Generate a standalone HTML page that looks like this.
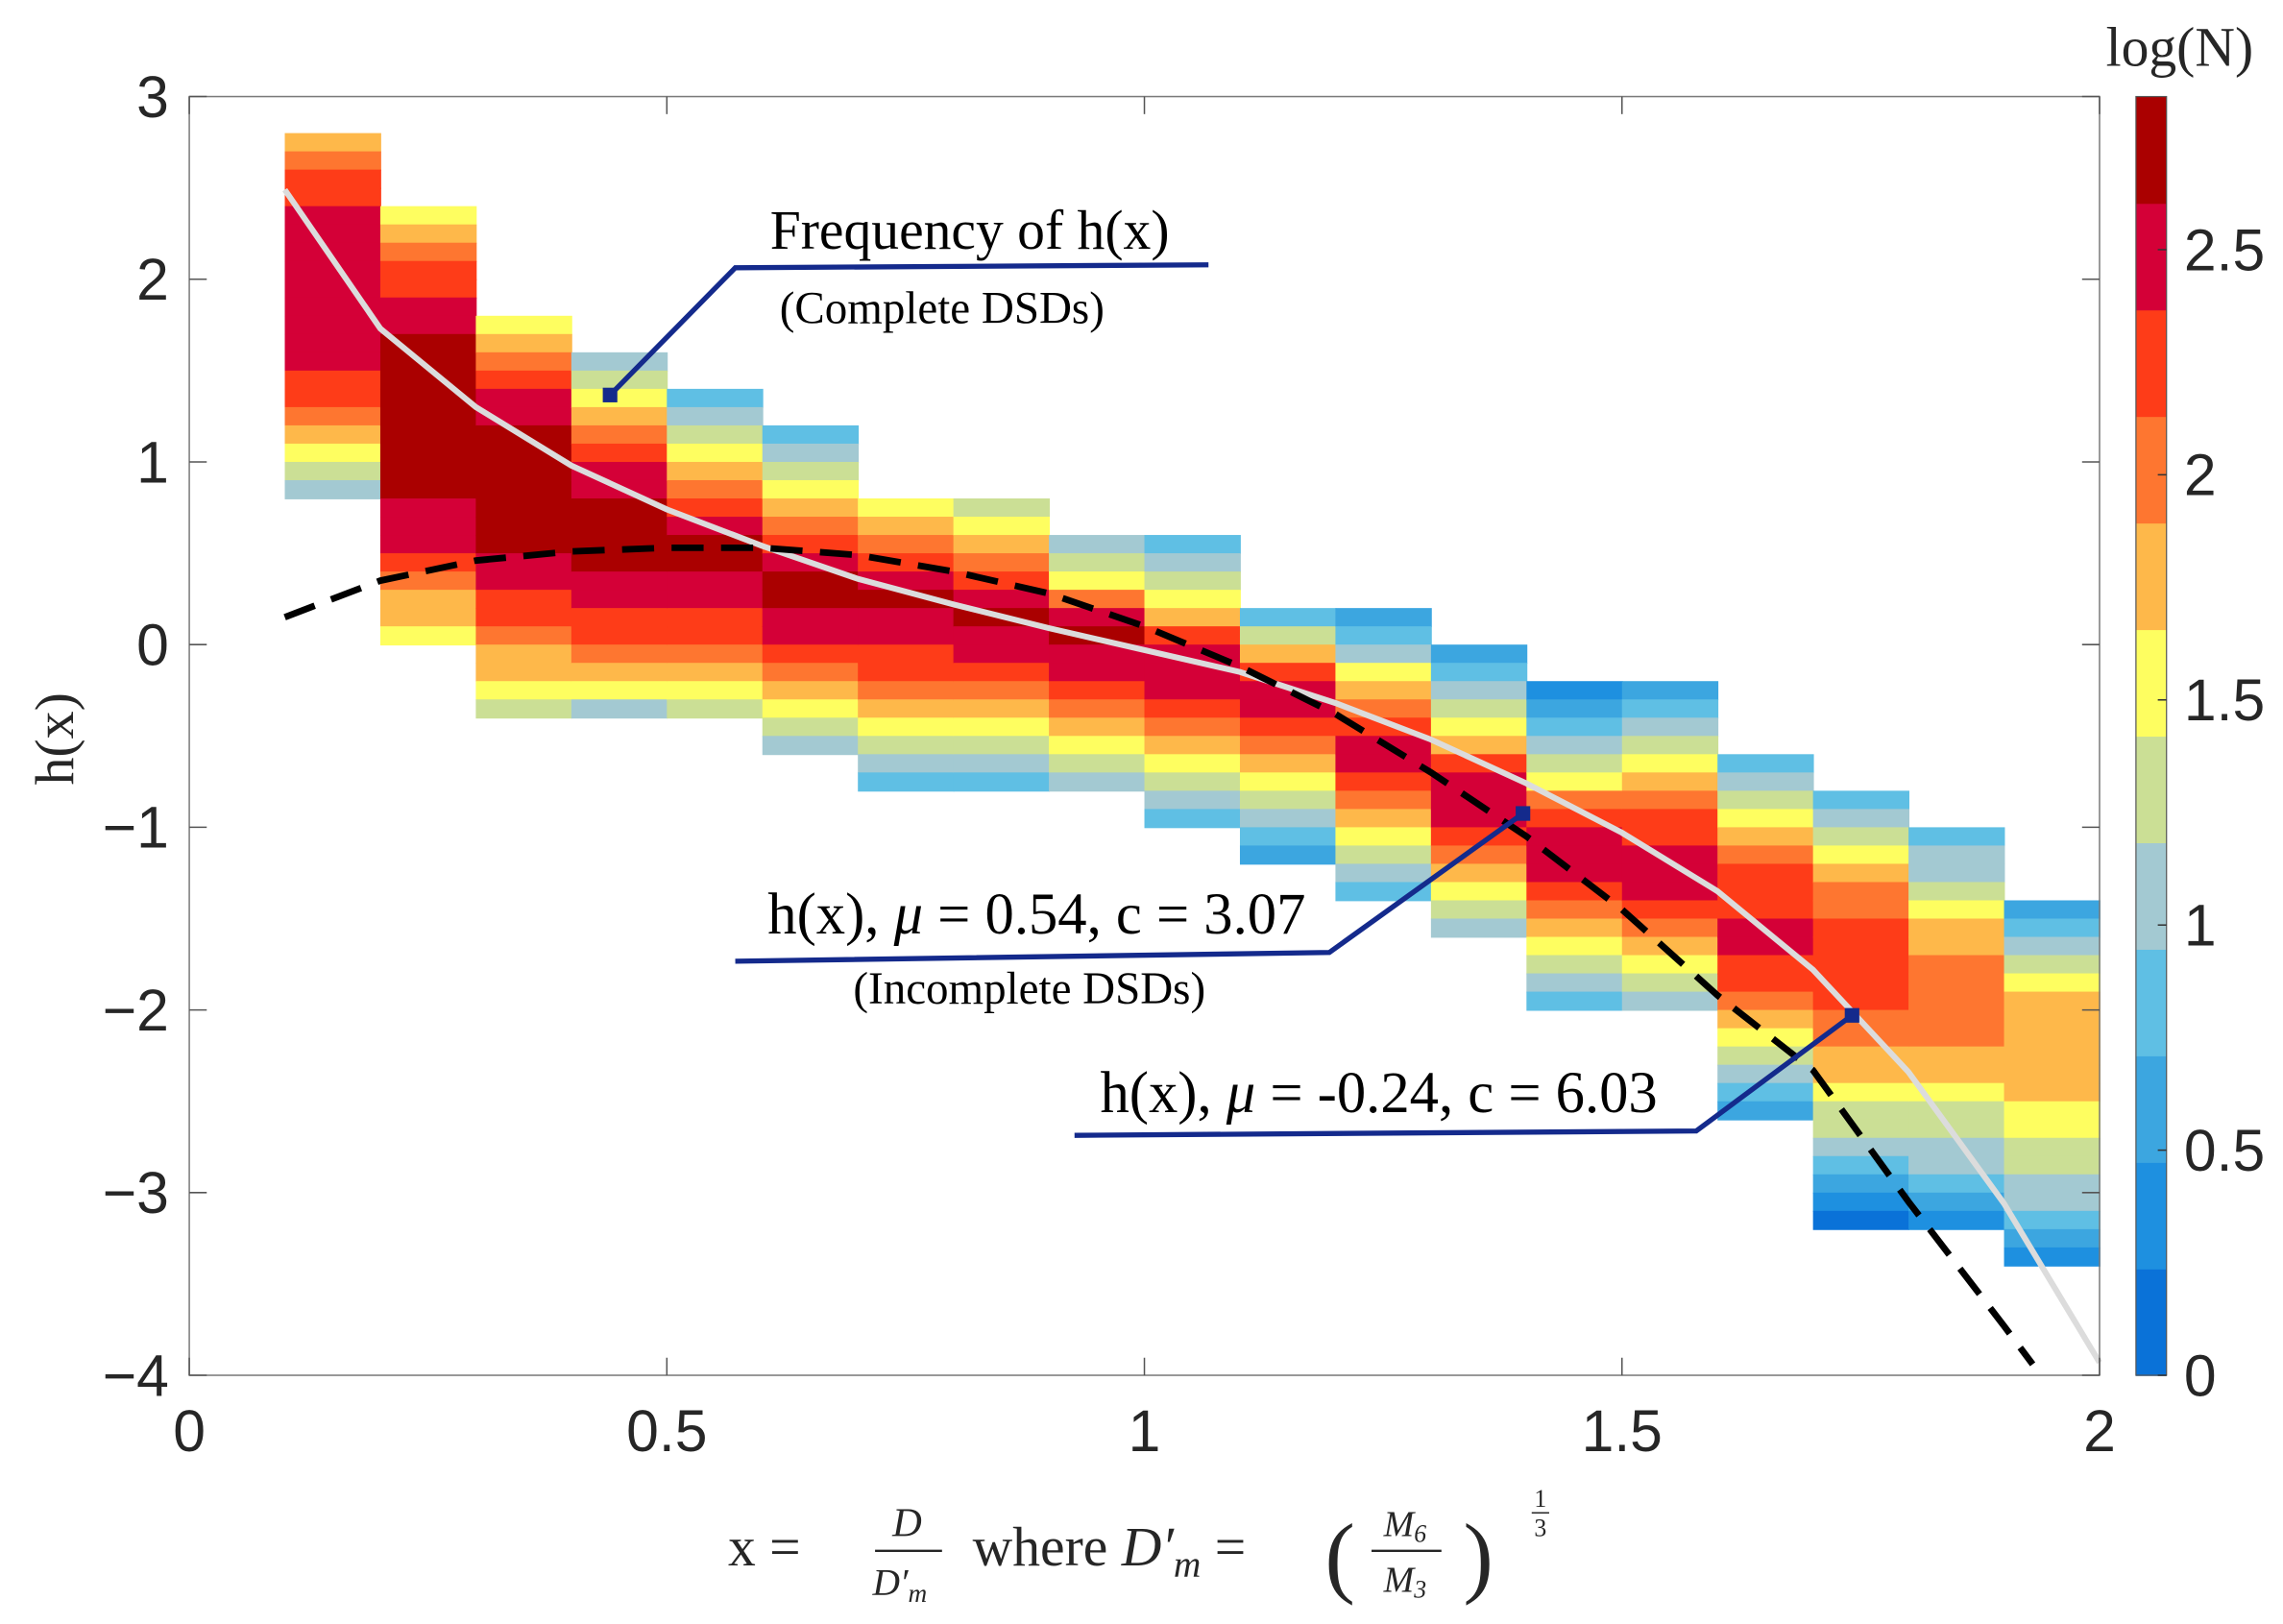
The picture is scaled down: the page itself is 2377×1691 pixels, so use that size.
<!DOCTYPE html>
<html><head><meta charset="utf-8"><style>
html,body{margin:0;padding:0;background:#fff;}
svg{display:block;}
</style></head><body>
<svg id="chart" width="2377" height="1691" viewBox="0 0 1568 1110" preserveAspectRatio="none" xmlns="http://www.w3.org/2000/svg">
<g id="cells"></g>
<g id="lines"></g>
<g id="axes"></g>
<g id="cbar"></g>
<g id="ann"></g>
<text x="0" y="0" transform="translate(50,505) rotate(-90)" text-anchor="middle" font-family="Liberation Serif, serif" font-size="38" fill="#262626">h(x)</text>
<g font-family="Liberation Serif, serif" fill="#262626">
<text x="500" y="1070" font-size="38">x =</text>
<text x="623" y="1050" font-size="28" font-style="italic" text-anchor="middle">D</text>
<line x1="601" y1="1060" x2="647" y2="1060" stroke="#262626" stroke-width="1.5"/>
<text x="618" y="1090" font-size="26" font-style="italic" text-anchor="middle">D′<tspan font-size="18" dy="5">m</tspan></text>
<text x="668" y="1070" font-size="38">where <tspan font-style="italic">D′</tspan><tspan font-size="26" font-style="italic" dy="8">m</tspan><tspan dy="-8"> =</tspan></text>
<text x="910" y="1084" font-size="62">(</text>
<text x="965" y="1050" font-size="25" font-style="italic" text-anchor="middle">M<tspan font-size="17" dy="4">6</tspan></text>
<line x1="942" y1="1060" x2="990" y2="1060" stroke="#262626" stroke-width="1.5"/>
<text x="965" y="1088" font-size="25" font-style="italic" text-anchor="middle">M<tspan font-size="17" dy="4">3</tspan></text>
<text x="1005" y="1084" font-size="62">)</text>
<text x="1058" y="1030" font-size="17" text-anchor="middle">1</text>
<line x1="1052" y1="1034" x2="1064" y2="1034" stroke="#262626" stroke-width="1"/>
<text x="1058" y="1050" font-size="17" text-anchor="middle">3</text>
</g>
</svg>
<script>
// ---- data ----
const colX = [0.1,0.2,0.3,0.4,0.5,0.6,0.7,0.8,0.9,1.0,1.1,1.2,1.3,1.4,1.5,1.6,1.7,1.8,1.9];
const colTop = [2.8,2.4,1.8,1.6,1.4,1.2,0.8,0.8,0.6,0.6,0.2,0.2,0.0,-0.2,-0.2,-0.6,-0.8,-1.0,-1.4];
const colLevels = [
 "7899aaaaaaaaa9987654",
 "67899aabbbbbbbbbaaa98776",
 "6789aabbbbbbbaa9987765",
 "456789aabbbbaa998764",
 "3456789abbaa998765",
 "3456789abbaa987654",
 "6789abaa99876543",
 "56789abaa9876543",
 "4568abaa987654",
 "345679aaa9876543",
 "3579aa98765432",
 "2346789aa9876543",
 "2345679aaa987654",
 "12345689aaa9876543",
 "234567899aaa987654",
 "345678999aa998765432",
 "345678899999887765543210",
 "3445677888887765544321",
 "23456777777665544321"
];
const whiteX = [0.1,0.2,0.3,0.4,0.5,0.6,0.7,0.8,0.9,1.0,1.1,1.2,1.3,1.4,1.5,1.6,1.7,1.8,1.9,2.0];
const whiteY = [2.49,1.73,1.3,0.98,0.74,0.54,0.36,0.22,0.09,-0.03,-0.15,-0.32,-0.52,-0.76,-1.03,-1.35,-1.78,-2.34,-3.06,-3.93];
const dashX = [0.1,0.2,0.3,0.4,0.5,0.6,0.7,0.8,0.9,1.0,1.1,1.2,1.3,1.4,1.5,1.6,1.7,1.8,1.9,1.93];
const dashY = [0.15,0.35,0.46,0.51,0.53,0.53,0.49,0.40,0.28,0.10,-0.12,-0.38,-0.70,-1.05,-1.45,-1.92,-2.33,-3.05,-3.73,-3.94];
const xTicks = [0,0.5,1,1.5,2];
const xTickLabels = ["0","0.5","1","1.5","2"];
const yTicks = [3,2,1,0,-1,-2,-3,-4];
const yTickLabels = ["3","2","1","0","\u22121","\u22122","\u22123","\u22124"];
const cbTicks = [0,0.5,1,1.5,2,2.5];
const cbTickLabels = ["0","0.5","1","1.5","2","2.5"];
const cbMax = 2.84;
const palette = ["#0a72d8","#1e90e0","#3ca6e0","#5fbfe4","#a3c9d2","#cbdf95","#fefe60","#feb84a","#fe7630","#fe3c18","#d40037","#aa0000"];
// ---- scales ----
const PL=130, PR=1442, PT=66, PB=940;
const sx = v => PL + (v-0)/(2-0)*(PR-PL);
const sy = v => PT + (3-v)/(7)*(PB-PT);
const NS="http://www.w3.org/2000/svg";
function mk(tag, attrs, parent){const e=document.createElementNS(NS,tag);for(const k in attrs)e.setAttribute(k,attrs[k]);parent.appendChild(e);return e;}
const gC=document.getElementById('cells');
colX.forEach((x0,i)=>{
  const s=colLevels[i];
  for(let j=0;j<s.length;j++){
    const lv=parseInt(s[j],16);
    const yt=colTop[i]-0.1*j, yb=colTop[i]-0.1*(j+1);
    const r=mk('rect',{x:sx(x0),y:sy(yt),width:sx(x0+0.1)-sx(x0)+0.6,height:sy(yb)-sy(yt)+0.6,fill:palette[lv]},gC);
    
    
  }
});
const gL=document.getElementById('lines');
const wp=whiteX.map((x,i)=>sx(x)+','+sy(whiteY[i])).join(' ');
const wl=mk('polyline',{points:wp,fill:'none',stroke:'#dcdcdc','stroke-width':4},gL);


const dp=dashX.map((x,i)=>sx(x)+','+sy(dashY[i])).join(' ');
const dl=mk('polyline',{points:dp,fill:'none',stroke:'#000','stroke-width':4.5,'stroke-dasharray':'22 12'},gL);


// axes
const gA=document.getElementById('axes');
const box=mk('rect',{x:PL,y:PT,width:PR-PL,height:PB-PT,fill:'none',stroke:'#7a7a7a','stroke-width':1},gA);


xTicks.forEach((v,i)=>{
  const x=sx(v);
  mk('line',{x1:x,y1:PB,x2:x,y2:PB-12,stroke:'#555','stroke-width':1},gA);
  mk('line',{x1:x,y1:PT,x2:x,y2:PT+12,stroke:'#555','stroke-width':1},gA);
  const t=mk('text',{x:x,y:992,'text-anchor':'middle','font-family':'Liberation Sans, sans-serif','font-size':40,fill:'#262626'},gA);
  t.textContent=xTickLabels[i];
  
  
});
yTicks.forEach((v,i)=>{
  const y=sy(v);
  mk('line',{x1:PL,y1:y,x2:PL+12,y2:y,stroke:'#555','stroke-width':1},gA);
  mk('line',{x1:PR,y1:y,x2:PR-12,y2:y,stroke:'#555','stroke-width':1},gA);
  const t=mk('text',{x:116,y:y+14,'text-anchor':'end','font-family':'Liberation Sans, sans-serif','font-size':40,fill:'#262626'},gA);
  t.textContent=yTickLabels[i];
  
  
});
// colorbar
const gB=document.getElementById('cbar');
const CX=1467, CW=21;
const cy=v=>PB-(v/cbMax)*(PB-PT);
palette.forEach((c,i)=>{
  const v0=i*cbMax/palette.length, v1=(i+1)*cbMax/palette.length;
  const r=mk('rect',{x:CX,y:cy(v1),width:CW,height:cy(v0)-cy(v1)+0.5,fill:c},gB);
  
  
});
mk('rect',{x:CX,y:PT,width:CW,height:PB-PT,fill:'none',stroke:'#555','stroke-width':0.8},gB);
cbTicks.forEach((v,i)=>{
  const y=cy(v);
  mk('line',{x1:CX+CW-6,y1:y,x2:CX+CW,y2:y,stroke:'#333','stroke-width':1},gB);
  const t=mk('text',{x:1500,y:y+14,'font-family':'Liberation Sans, sans-serif','font-size':40,fill:'#262626'},gB);
  t.textContent=cbTickLabels[i];
  
  
});
const cbt=mk('text',{x:1497,y:45,'text-anchor':'middle','font-family':'Liberation Serif, serif','font-size':38,fill:'#262626'},gB);
cbt.textContent='log(N)';


// annotations
const gN=document.getElementById('ann');
const anns=[
 {pts:[[419,270],[505,183],[830,181]],t1:['Frequency of h(x)'],t1x:666,t1y:170,fs1:38,t2:'(Complete DSDs)',t2x:647,t2y:221,n:'annotation-frequency'},
 {pts:[[1046,556],[913,651],[505,657]],t1:['h(x), ','\u03bc',' = 0.54, c = 3.07'],t1x:712,t1y:638,fs1:40,t2:'(Incomplete DSDs)',t2x:707,t2y:686,n:'annotation-incomplete'},
 {pts:[[1272,694],[1165,773],[738,776]],t1:['h(x), ','\u03bc',' = -0.24, c = 6.03'],t1x:947,t1y:760,fs1:40,t2:'',n:'annotation-complete-fit'}
];
anns.forEach(a=>{
  const g=mk('g',{},gN);
  
  
  mk('polyline',{points:a.pts.map(p=>p.join(',')).join(' '),fill:'none',stroke:'#142a8c','stroke-width':3.5},g);
  mk('rect',{x:a.pts[0][0]-5,y:a.pts[0][1]-5,width:10,height:10,fill:'#142a8c'},g);
  const t=mk('text',{x:a.t1x,y:a.t1y,'text-anchor':'middle','font-family':'Liberation Serif, serif','font-size':a.fs1,fill:'#000'},g);
  a.t1.forEach((s,k)=>{const ts=mk('tspan',{},t);if(s==='\u03bc')ts.setAttribute('font-style','italic');ts.textContent=s;});
  if(a.t2){const t2=mk('text',{x:a.t2x,y:a.t2y,'text-anchor':'middle','font-family':'Liberation Serif, serif','font-size':31,fill:'#000'},g);t2.textContent=a.t2;}
});
</script>
</body></html>
